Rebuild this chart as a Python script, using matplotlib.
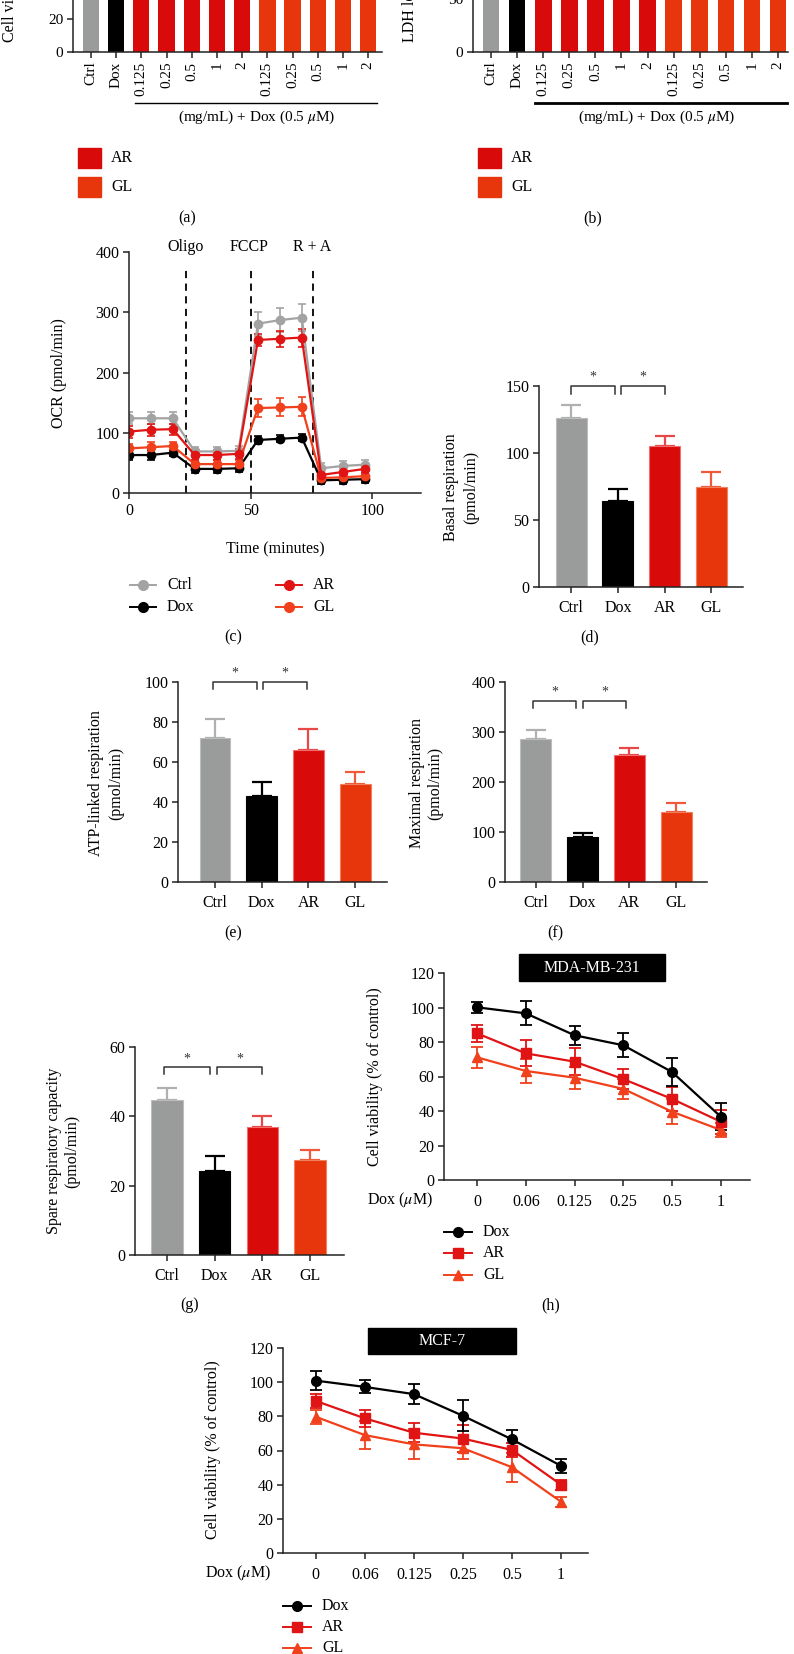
import numpy as np
import matplotlib
matplotlib.use("Agg")
import matplotlib.pyplot as plt
from matplotlib.lines import Line2D
from matplotlib.patches import Rectangle

plt.rcParams['font.family'] = ['Liberation Serif', 'DejaVu Serif']
plt.rcParams['mathtext.fontset'] = 'stix'
FS = 11.5
plt.rcParams['font.size'] = FS

W, H = 794, 1654

# colours
C_CTRL = '#9a9c9b'
C_DOX = '#000000'
C_AR = '#d90a0a'
C_GL = '#e8360c'
L_CTRL = '#a3a3a3'
L_AR = '#e01414'
L_GL = '#f0401c'

# (a) cell viability, (b) LDH -- only the bottom of these panels is in view
ab_labels = ['Ctrl', 'Dox', '0.125', '0.25', '0.5', '1', '2',
             '0.125', '0.25', '0.5', '1', '2']
ab_groups = ['ctrl', 'dox'] + ['ar'] * 5 + ['gl'] * 5
viab_vals = [100, 52, 58, 63, 68, 72, 76, 56, 60, 64, 67, 70]
ldh_vals = [100, 185, 170, 160, 150, 140, 130, 175, 168, 160, 152, 145]

# (c) OCR trace
ocr_time = [0, 9, 18, 27, 36, 45, 53, 62, 71, 79, 88, 97]
ocr_ctrl = [124, 124, 124, 69, 69, 70, 281, 287, 291, 41, 45, 47]
ocr_ctrl_err = [10, 10, 10, 8, 8, 8, 20, 20, 22, 8, 8, 8]
ocr_dox = [63, 63, 67, 40, 40, 41, 88, 90, 92, 21, 22, 23]
ocr_dox_err = [8, 9, 5, 6, 6, 6, 7, 6, 6, 6, 7, 7]
ocr_ar = [102, 105, 106, 63, 63, 65, 254, 256, 258, 30, 35, 40]
ocr_ar_err = [10, 10, 9, 8, 8, 8, 10, 13, 15, 6, 6, 6]
ocr_gl = [74, 76, 78, 48, 48, 48, 141, 142, 143, 25, 26, 28]
ocr_gl_err = [8, 8, 7, 6, 6, 6, 15, 15, 16, 5, 5, 5]

# (d)-(g) respiration bars
groups = ['Ctrl', 'Dox', 'AR', 'GL']
basal = [126, 64, 105, 75]
basal_err = [10, 9, 7.5, 10.5]
atp = [72, 43, 66, 49]
atp_err = [9.5, 7, 10.5, 6]
maximal = [286, 90, 255, 141]
maximal_err = [19, 9, 14, 17]
spare = [44.8, 24.2, 37, 27.4]
spare_err = [3.4, 4.4, 3, 2.9]

# (h) MDA-MB-231, (i) MCF-7
dose_labels = ['0', '0.06', '0.125', '0.25', '0.5', '1']
mda_dox = [100.1, 96.6, 83.9, 78.1, 62.6, 36.7]
mda_dox_err = [3, 7, 5.4, 7, 8, 7.7]
mda_ar = [85, 73.4, 68.6, 58.5, 47, 33.8]
mda_ar_err = [5, 7.5, 8, 5.6, 7, 7]
mda_gl = [71.1, 63.2, 59.3, 52.8, 39.6, 29]
mda_gl_err = [6, 7, 6.4, 6, 7.3, 4]
mcf_dox = [100.9, 97.2, 93, 80.3, 66.5, 51]
mcf_dox_err = [5.7, 3.8, 6, 9, 5.5, 4]
mcf_ar = [89, 78.8, 70.4, 67, 60.3, 40]
mcf_ar_err = [4.3, 5.2, 5.5, 8, 4, 3]
mcf_gl = [79.7, 69, 63.6, 61.3, 50.2, 30]
mcf_gl_err = [4.2, 8.3, 8.8, 6, 8.4, 3]

fig = plt.figure(figsize=(W / 100, H / 100), dpi=100)


def add_ax(x0, ytop, x1, ybot):
    return fig.add_axes([x0 / W, 1 - ybot / H, (x1 - x0) / W, (ybot - ytop) / H])


def ftext(x, y, s, **kw):
    kw.setdefault('fontsize', FS)
    return fig.text(x / W, 1 - y / H, s, **kw)


def fline(xs, ys, **kw):
    fig.add_artist(Line2D([x / W for x in xs], [1 - y / H for y in ys],
                          transform=fig.transFigure, **kw))


def style(ax, lsize=FS):
    for s in ['top', 'right']:
        ax.spines[s].set_visible(False)
    for s in ['left', 'bottom']:
        ax.spines[s].set_linewidth(1.1)
        ax.spines[s].set_color('#222222')
    ax.tick_params(length=4, width=1.1, labelsize=lsize, color='#222222', pad=3)


def line_legend(xm, ys, entries, half=14, tx=None):
    for y, (lab, col, mk) in zip(ys, entries):
        fline([xm - half, xm + half], [y, y], color=col, lw=1.4)
        fline([xm], [y], color=col, marker=mk, ms=7, lw=0)
        ftext(tx if tx else xm + half + 11, y, lab, va='center', ha='left')


# ---------- (a) and (b) ----------
col_map = {'ctrl': C_CTRL, 'dox': C_DOX, 'ar': C_AR, 'gl': C_GL}
ab_colors = [col_map[g] for g in ab_groups]

ax_a = add_ax(73, -146, 382, 52)
x = np.arange(len(ab_labels))
ax_a.bar(x, viab_vals, width=0.65, color=ab_colors)
ax_a.set_xlim(-0.71, 11.55)
ax_a.set_ylim(0, 120)
ax_a.set_yticks(np.arange(0, 121, 20))
ax_a.set_xticks(x)
ax_a.set_xticklabels(ab_labels, rotation=90)
style(ax_a, 11)
ftext(10, 42, 'Cell viability (% of control)', rotation=90, ha='center', va='bottom')
fline([135, 377], [103, 103], color='k', lw=1)
ftext(257, 117, r'(mg/mL) + Dox (0.5 $\mu$M)', ha='center', va='center', fontsize=11)

ax_b = add_ax(473, -107, 788, 52)
ax_b.bar(x, ldh_vals, width=0.64, color=ab_colors)
ax_b.set_xlim(-0.69, 11.38)
ax_b.set_ylim(0, 150)
ax_b.set_yticks([0, 50, 100, 150])
ax_b.set_xticks(x)
ax_b.set_xticklabels(ab_labels, rotation=90)
style(ax_b, 11)
ftext(410, 42, 'LDH leakage (% of control)', rotation=90, ha='center', va='bottom')
fline([535, 787], [103, 103], color='k', lw=2)
ftext(657, 117, r'(mg/mL) + Dox (0.5 $\mu$M)', ha='center', va='center', fontsize=11)

for x0 in (78, 478):
    for y0, lab, col in [(148, 'AR', C_AR), (177, 'GL', C_GL)]:
        fig.add_artist(Rectangle((x0 / W, 1 - (y0 + 20) / H), 23 / W, 20 / H,
                                 transform=fig.transFigure, color=col))
        ftext(x0 + 33, y0 + 10, lab, va='center', ha='left')

ftext(187, 218, '(a)', ha='center', va='center')
ftext(593, 218, '(b)', ha='center', va='center')

# ---------- (c) ----------
ax_c = add_ax(129, 252, 421, 493)
for vals, errs, col in [(ocr_ctrl, ocr_ctrl_err, L_CTRL), (ocr_dox, ocr_dox_err, C_DOX),
                        (ocr_gl, ocr_gl_err, L_GL), (ocr_ar, ocr_ar_err, L_AR)]:
    ax_c.errorbar(ocr_time, vals, yerr=errs, color=col, marker='o', ms=6, lw=1.6,
                  capsize=3, elinewidth=1.2, capthick=1.2)
for t in (23.5, 50, 75.5):
    ax_c.axvline(t, ymin=0, ymax=0.94, color='k', ls=(0, (4, 3)), lw=1.3)
ax_c.set_xlim(0, 120)
ax_c.set_ylim(0, 400)
ax_c.set_xticks([0, 50, 100])
ax_c.set_yticks([0, 100, 200, 300, 400])
style(ax_c)
for t, lab in [(186, 'Oligo'), (249, 'FCCP'), (312, 'R + A')]:
    ftext(t, 247, lab, ha='center', va='center')
ftext(275, 549, 'Time (minutes)', ha='center', va='center')
ftext(59, 373, 'OCR (pmol/min)', rotation=90, ha='center', va='center')
line_legend(143, [585, 607], [('Ctrl', L_CTRL, 'o'), ('Dox', C_DOX, 'o')], half=13, tx=167)
line_legend(289, [585, 607], [('AR', L_AR, 'o'), ('GL', L_GL, 'o')], half=13, tx=313)
ftext(233, 637, '(c)', ha='center', va='center')

# ---------- (d)-(g) ----------
bar_cols = [C_CTRL, C_DOX, C_AR, C_GL]
err_cols = ['#b0b0b0', C_DOX, '#e84848', '#ee5a3a']
edge_cols = ['#bdbdbd', '#000000', '#f07070', '#f08060']


def bar_panel(ax, vals, errs, ylim, yticks, xl, brk):
    xs = np.arange(len(groups))
    for xi, v, e, c, ec, edc in zip(xs, vals, errs, bar_cols, err_cols, edge_cols):
        ax.errorbar([xi], [v], yerr=[[0], [e]], fmt='none', ecolor=ec, capsize=7,
                    elinewidth=1.6, capthick=1.6, zorder=1)
        ax.bar([xi], [v], width=0.66, color=c, edgecolor=edc, lw=0.8, zorder=2)
    ax.set_xlim(*xl)
    ax.set_ylim(*ylim)
    ax.set_yticks(yticks)
    ax.set_xticks(xs)
    ax.set_xticklabels(groups)
    style(ax)
    ax.tick_params(axis='x', pad=5)
    top, low, star, spans = brk
    for a, b in spans:
        ax.plot([a, a, b, b], [low, top, top, low], color='#333333', lw=1.1, clip_on=False)
        ax.text((a + b) / 2, star, '*', ha='center', va='center', fontsize=10, color='#333333')


ax_d = add_ax(539, 386, 743, 587)
bar_panel(ax_d, basal, basal_err, (0, 150), [0, 50, 100, 150], (-0.69, 3.68),
          (150, 144, 156.5, [(0, 0.94), (1.07, 2.0)]))
ftext(461, 487, 'Basal respiration\n(pmol/min)', rotation=90, ha='center', va='center',
      linespacing=1.3)
ftext(590, 637, '(d)', ha='center', va='center')

ax_e = add_ax(178, 682, 387, 882)
bar_panel(ax_e, atp, atp_err, (0, 100), [0, 20, 40, 60, 80, 100], (-0.79, 3.68),
          (100, 96.5, 104.5, [(-0.04, 0.9), (1.03, 1.97)]))
ftext(106, 783, 'ATP-linked respiration\n(pmol/min)', rotation=90, ha='center', va='center',
      linespacing=1.3)
ftext(233, 933, '(e)', ha='center', va='center')

ax_f = add_ax(505, 682, 707, 882)
bar_panel(ax_f, maximal, maximal_err, (0, 400), [0, 100, 200, 300, 400], (-0.66, 3.66),
          (362, 348, 380, [(-0.06, 0.86), (1.0, 1.93)]))
ftext(426, 783, 'Maximal respiration\n(pmol/min)', rotation=90, ha='center', va='center',
      linespacing=1.15)
ftext(555, 933, '(f)', ha='center', va='center')

ax_g = add_ax(135, 1047, 344, 1255)
bar_panel(ax_g, spare, spare_err, (0, 60), [0, 20, 40, 60], (-0.67, 3.71),
          (54.2, 52.2, 56.5, [(-0.06, 0.9), (1.05, 2.0)]))
ftext(63, 1151, 'Spare respiratory capacity\n(pmol/min)', rotation=90, ha='center', va='center',
      linespacing=1.2)
ftext(190, 1305, '(g)', ha='center', va='center')

# ---------- (h) and (i) ----------


def dose_panel(ax, series, xl):
    xs = np.arange(len(dose_labels))
    for vals, errs, col, mk in series:
        ax.errorbar(xs, vals, yerr=errs, color=col, marker=mk, ms=7, lw=1.6,
                    capsize=4, elinewidth=1.3, capthick=1.3)
    ax.set_xlim(*xl)
    ax.set_ylim(0, 120)
    ax.set_yticks(np.arange(0, 121, 20))
    ax.set_xticks(xs)
    ax.set_xticklabels(dose_labels)
    style(ax)
    ax.tick_params(axis='x', pad=6)


ax_h = add_ax(444, 973, 750, 1180)
dose_panel(ax_h, [(mda_gl, mda_gl_err, L_GL, '^'), (mda_ar, mda_ar_err, L_AR, 's'),
                  (mda_dox, mda_dox_err, C_DOX, 'o')], (-0.68, 5.6))
fig.add_artist(Rectangle((519 / W, 1 - 981 / H), 146 / W, 27 / H,
                         transform=fig.transFigure, color='k'))
ftext(592, 967.5, 'MDA-MB-231', color='white', ha='center', va='center')
ftext(375, 1077, 'Cell viability (% of control)', rotation=90, ha='center', va='center')
ftext(433, 1200, r'Dox ($\mu$M)', ha='right', va='center')
line_legend(458, [1232, 1253, 1275], [('Dox', C_DOX, 'o'), ('AR', L_AR, 's'), ('GL', L_GL, '^')],
            tx=483)
ftext(551, 1305, '(h)', ha='center', va='center')

ax_i = add_ax(283, 1348, 588, 1553)
dose_panel(ax_i, [(mcf_gl, mcf_gl_err, L_GL, '^'), (mcf_ar, mcf_ar_err, L_AR, 's'),
                  (mcf_dox, mcf_dox_err, C_DOX, 'o')], (-0.67, 5.55))
fig.add_artist(Rectangle((368 / W, 1 - 1354 / H), 148 / W, 26 / H,
                         transform=fig.transFigure, color='k'))
ftext(442, 1341, 'MCF-7', color='white', ha='center', va='center')
ftext(213, 1450, 'Cell viability (% of control)', rotation=90, ha='center', va='center')
ftext(271, 1573, r'Dox ($\mu$M)', ha='right', va='center')
line_legend(297, [1606, 1627, 1648], [('Dox', C_DOX, 'o'), ('AR', L_AR, 's'), ('GL', L_GL, '^')],
            tx=322)

fig.savefig('out.png', dpi=100)
